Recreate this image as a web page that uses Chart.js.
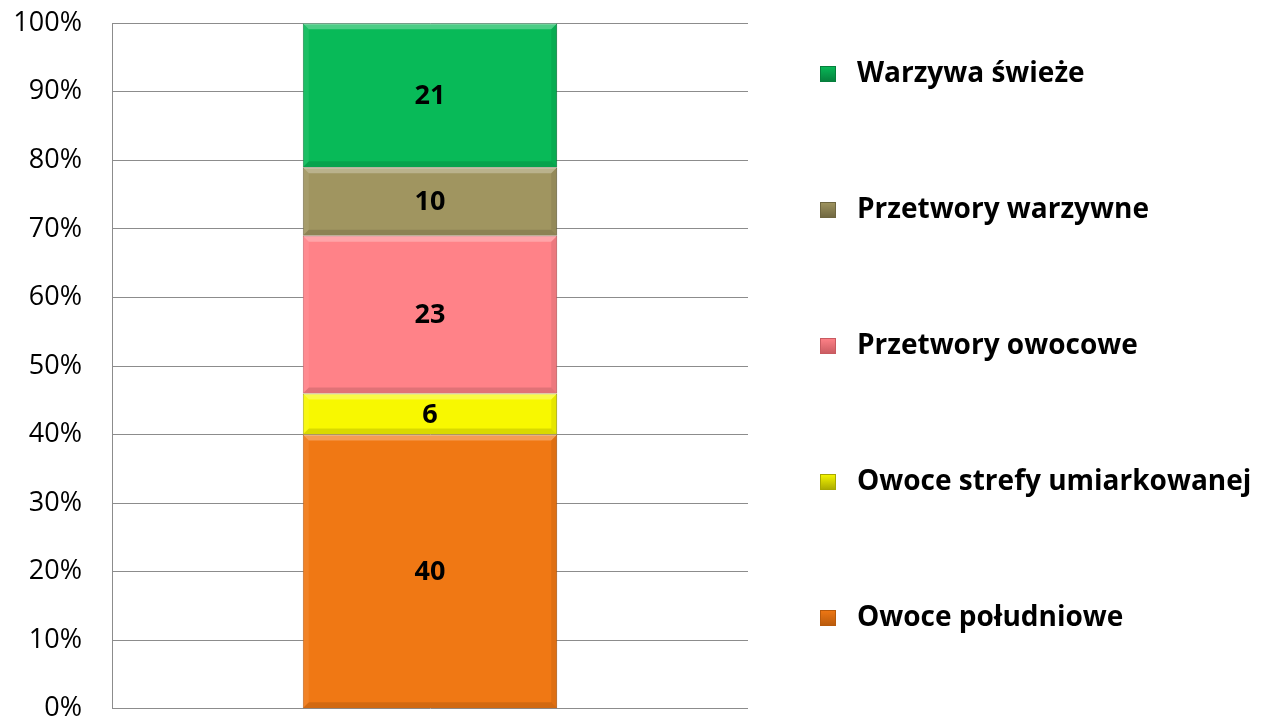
<!DOCTYPE html>
<html>
<head>
<meta charset="utf-8">
<script src="https://cdn.jsdelivr.net/npm/chart.js@4/dist/chart.umd.min.js"></script>
<style>
  html, body { margin: 0; padding: 0; background: #fff; overflow: hidden; }
  #wrap { width: 1264px; height: 778px; margin-top: -23px; }
</style>
</head>
<body>
<div id="wrap"><canvas id="chart"></canvas></div>
<script>
// dane (kolejność od dołu słupka)
const categories = [''];
const seriesNames = ['Owoce południowe', 'Owoce strefy umiarkowanej', 'Przetwory owocowe', 'Przetwory warzywne', 'Warzywa świeże'];
const seriesValues = [40, 6, 23, 10, 21];
const seriesColors = ['#F07814', '#F8F800', '#FF8288', '#A09560', '#08BA58'];
const seriesBorders = ['#B85A0C', '#A8A800', '#C85A60', '#6E6640', '#067E3C'];
const yTicks = [0, 10, 20, 30, 40, 50, 60, 70, 80, 90, 100];

const FONT = "'Open Sans', 'DejaVu Sans', sans-serif";
const SHIFT = 23; // wrap przesunięty w górę

// lekki efekt wypukłości na segmentach
const bevel = {
  id: 'bevel',
  afterDatasetsDraw(chart) {
    const { ctx } = chart;
    const d = 6;
    ctx.save();
    chart.data.datasets.forEach((ds, i) => {
      chart.getDatasetMeta(i).data.forEach((bar) => {
        const p = bar.getProps(['x', 'y', 'base', 'width'], true);
        const l = p.x - p.width / 2, r = p.x + p.width / 2, t = p.y, b = p.base;
        ctx.fillStyle = 'rgba(255,255,255,0.28)';
        ctx.beginPath();
        ctx.moveTo(l, t); ctx.lineTo(r, t); ctx.lineTo(r - d, t + d); ctx.lineTo(l + d, t + d);
        ctx.closePath(); ctx.fill();
        ctx.fillStyle = 'rgba(0,0,0,0.12)';
        ctx.beginPath();
        ctx.moveTo(l, b); ctx.lineTo(r, b); ctx.lineTo(r - d, b - d); ctx.lineTo(l + d, b - d);
        ctx.closePath(); ctx.fill();
        ctx.fillStyle = 'rgba(0,0,0,0.07)';
        ctx.beginPath();
        ctx.moveTo(r, t); ctx.lineTo(r, b); ctx.lineTo(r - d, b - d); ctx.lineTo(r - d, t + d);
        ctx.closePath(); ctx.fill();
        ctx.fillStyle = 'rgba(255,255,255,0.08)';
        ctx.beginPath();
        ctx.moveTo(l, t); ctx.lineTo(l, b); ctx.lineTo(l + d, b - d); ctx.lineTo(l + d, t + d);
        ctx.closePath(); ctx.fill();
      });
    });
    ctx.restore();
  }
};

// etykiety wartości w środku segmentów
const valueLabels = {
  id: 'valueLabels',
  afterDatasetsDraw(chart) {
    const { ctx } = chart;
    ctx.save();
    ctx.font = 'bold 27px ' + FONT;
    ctx.fillStyle = '#000';
    ctx.textAlign = 'center';
    ctx.textBaseline = 'middle';
    chart.data.datasets.forEach((ds, i) => {
      chart.getDatasetMeta(i).data.forEach((bar, j) => {
        const p = bar.getProps(['x', 'y', 'base'], true);
        ctx.fillText(String(ds.data[j]), p.x, (p.y + p.base) / 2 + 1);
      });
    });
    ctx.restore();
  }
};

// legenda po prawej, odwrócona kolejność
const sideLegend = {
  id: 'sideLegend',
  afterDraw(chart) {
    const { ctx } = chart;
    const items = chart.data.datasets.map((ds, i) => ({ ds, i })).reverse();
    ctx.save();
    ctx.font = 'bold 28px ' + FONT;
    ctx.textBaseline = 'middle';
    items.forEach((it, k) => {
      const cy = SHIFT + 74 + k * 136;
      const g = ctx.createLinearGradient(820, cy - 8, 820, cy + 8);
      g.addColorStop(0, it.ds.backgroundColor);
      g.addColorStop(1, it.ds.borderColor);
      ctx.fillStyle = g;
      ctx.fillRect(820, cy - 8, 16, 16);
      ctx.strokeStyle = it.ds.borderColor;
      ctx.lineWidth = 1;
      ctx.strokeRect(820.5, cy - 7.5, 15, 15);
      ctx.fillStyle = '#000';
      ctx.fillText(it.ds.label, 857, cy);
    });
    ctx.restore();
  }
};

new Chart(document.getElementById('chart'), {
  type: 'bar',
  data: {
    labels: categories,
    datasets: seriesNames.map((name, i) => ({
      label: name,
      data: [seriesValues[i]],
      backgroundColor: seriesColors[i],
      borderColor: seriesBorders[i],
      borderWidth: 1,
      barPercentage: 0.8,
      categoryPercentage: 0.5,
    })),
  },
  options: {
    responsive: true,
    maintainAspectRatio: false,
    animation: false,
    layout: { padding: { top: 3, right: 516, bottom: 0, left: 0 } },
    plugins: {
      legend: { display: false },
      tooltip: { enabled: false },
    },
    scales: {
      x: {
        stacked: true,
        display: false,
      },
      y: {
        stacked: true,
        min: 0,
        max: 100,
        afterFit: (s) => { s.width = 112; },
        afterBuildTicks: (s) => { s.ticks = yTicks.map(v => ({ value: v })); },
        grid: { color: '#8C8C8C', lineWidth: 1, drawTicks: false },
        border: { display: true, color: '#8C8C8C' },
        ticks: {
          padding: 30,
          color: '#000',
          font: { family: FONT, size: 27 },
          callback: (v) => v + '%',
        },
      },
    },
  },
  plugins: [bevel, valueLabels, sideLegend],
});
</script>
</body>
</html>
